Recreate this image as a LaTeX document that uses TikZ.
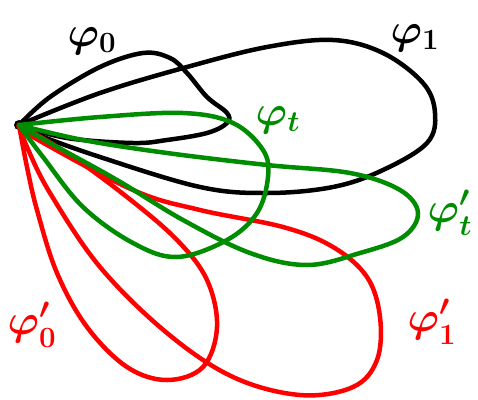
\documentclass[tikz,border=0pt]{standalone}
\usepackage{amsmath,amssymb}
\usepackage{graphicx}
\usepackage{xcolor}
\usepackage{tikz}
\usetikzlibrary{positioning,calc}
\definecolor{pengreen}{RGB}{0,140,0}
\newcommand{\sketchlab}[1]{\scalebox{1.7}{$#1$}}

\begin{document}
\begin{tikzpicture}[x=1pt, y=-1pt,
  basept/.style={circle, fill=black, inner sep=0pt, minimum size=10pt},
  pathblack/.style={line width=4.5pt, line cap=round, line join=round, black},
  pathred/.style={line width=4.5pt, line cap=round, line join=round, red},
  pathgreen/.style={line width=4.5pt, line cap=round, line join=round, pengreen},
  lab/.style={font=\fontsize{24}{24}\selectfont\boldmath, inner sep=0pt}
]
\useasboundingbox (0,0) rectangle (478,399);

\node[basept] (o) at (19,125) {};

% black loops
\draw[pathblack] plot[smooth, tension=0.6] coordinates {(o.center) (50,97) (100,67) (143,53) (170,58) (187,73) (207,97) (227,113) (227,123) (207,133) (167,140) (133,143) (67,138) (o.center)};
\draw[pathblack] plot[smooth, tension=0.6] coordinates {(o.center) (100,93) (187,67) (267,47) (333,40) (383,53) (423,83) (435,113) (427,143) (383,170) (333,187) (267,193) (200,187) (100,157) (33,133) (o.center)};

% red loops
\draw[pathred] plot[smooth, tension=0.6] coordinates {(o.center) (27,167) (37,210) (57,273) (87,327) (127,367) (167,380) (203,367) (217,327) (207,280) (177,240) (127,197) (67,153) (o.center)};
\draw[pathred] plot[smooth, tension=0.6] coordinates {(o.center) (33,137) (133,190) (200,210) (283,227) (333,247) (367,277) (380,317) (377,360) (353,387) (300,395) (233,377) (167,333) (100,267) (50,193) (27,147) (o.center)};

% green loops
\draw[pathgreen] plot[smooth, tension=0.6] coordinates {(o.center) (100,117) (183,113) (233,123) (263,150) (268,177) (257,213) (227,240) (177,257) (133,243) (83,207) (43,157) (o.center)};
\draw[pathgreen] plot[smooth, tension=0.6] coordinates {(o.center) (83,140) (167,153) (267,165) (350,173) (400,190) (418,213) (403,237) (360,253) (307,265) (250,253) (183,220) (117,180) (50,143) (o.center)};

\node[lab] (l0) at (92,41) {\sketchlab{\varphi_0}};
\node[lab] (l1) at (415,38) {\sketchlab{\varphi_1}};
\node[lab, text=pengreen] (lt) at (278,120) {\sketchlab{\varphi_t}};
\node[lab, text=pengreen] (ltp) at (450,213) {\sketchlab{\varphi'_t}};
\node[lab, text=red] (l0p) at (32,325) {\sketchlab{\varphi'_0}};
\node[lab, text=red] (l1p) at (432,322) {\sketchlab{\varphi'_1}};
\end{tikzpicture}
\end{document}
